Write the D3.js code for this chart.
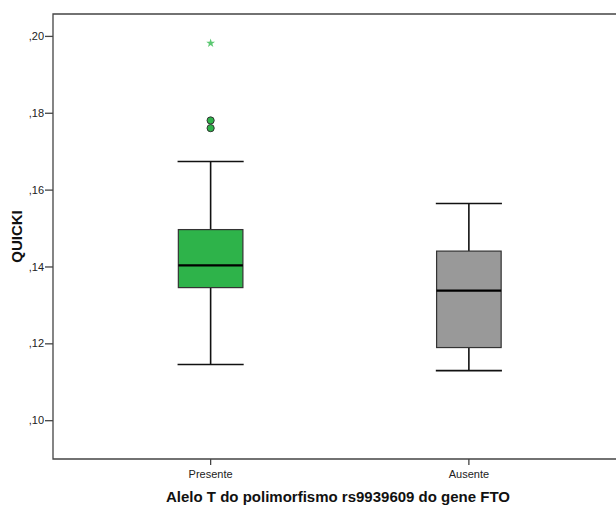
<!DOCTYPE html>
<html>
<head>
<meta charset="utf-8">
<script src="https://cdn.jsdelivr.net/npm/d3@7"></script>
<style>
  html, body { margin: 0; padding: 0; background: #fff; }
  svg { display: block; font-family: "Liberation Sans", Arial, sans-serif; }
</style>
</head>
<body>
<svg id="chart" width="616" height="506"></svg>
<script>
// QUICKI by presence of the T allele (FTO rs9939609)
const categories = ["Presente", "Ausente"];
const whiskerLow  = [0.1145, 0.1129];
const q1          = [0.1345, 0.1189];
const median      = [0.1403, 0.1337];
const q3          = [0.1496, 0.1440];
const whiskerHigh = [0.1673, 0.1564];
const boxColors   = ["#2eb34a", "#999999"];
// outliers (circles) and extremes (stars) for "Presente"
const outliers = [{ cat: "Presente", v: 0.1780 }, { cat: "Presente", v: 0.1760 }];
const extremes = [{ cat: "Presente", v: 0.1981 }];
const yTicks = [0.10, 0.12, 0.14, 0.16, 0.18, 0.20];
const yTickLabels = [",10", ",12", ",14", ",16", ",18", ",20"];
const yTitle = "QUICKI";
const xTitle = "Alelo T do polimorfismo rs9939609 do gene FTO";

const svg = d3.select("#chart");
const plot = { left: 53, top: 14, right: 640, bottom: 459 };

const y = d3.scaleLinear().domain([0.0899, 0.2057]).range([plot.bottom, plot.top]);
const x = d3.scaleBand().domain(categories).range([81.5, 598]).paddingInner(0).paddingOuter(0);
const boxW = x.bandwidth() * 0.25;
const capW = x.bandwidth() * 0.128;
const cx = c => x(c) + x.bandwidth() / 2;

// frame (left, top, bottom)
svg.append("path")
  .attr("d", `M${plot.right},${plot.top}H${plot.left}V${plot.bottom}H${plot.right}`)
  .attr("fill", "none").attr("stroke", "#444").attr("stroke-width", 1.3);

// y axis
const yAxis = d3.axisLeft(y).tickValues(yTicks)
  .tickFormat((d, i) => yTickLabels[i]).tickSize(8).tickPadding(1);
const gy = svg.append("g").attr("transform", `translate(${plot.left},0)`).call(yAxis);
gy.select(".domain").remove();
gy.selectAll(".tick line").attr("stroke", "#444").attr("stroke-width", 1.3);
gy.selectAll(".tick text").attr("fill", "#222").style("font-size", "11px");

// x axis
const gx = svg.append("g").attr("transform", `translate(0,${plot.bottom})`)
  .call(d3.axisBottom(x).tickSize(6).tickPadding(5));
gx.select(".domain").remove();
gx.selectAll(".tick line").attr("stroke", "#444").attr("stroke-width", 1.3);
gx.selectAll(".tick text").attr("fill", "#222").style("font-size", "11px");

// boxes
const data = categories.map((c, i) => ({
  c, lo: whiskerLow[i], q1: q1[i], med: median[i], q3: q3[i], hi: whiskerHigh[i], color: boxColors[i]
}));
const g = svg.append("g");
data.forEach(d => {
  const m = cx(d.c);
  g.append("line").attr("x1", m).attr("x2", m).attr("y1", y(d.hi)).attr("y2", y(d.q3))
    .attr("stroke", "#111").attr("stroke-width", 1.6);
  g.append("line").attr("x1", m).attr("x2", m).attr("y1", y(d.q1)).attr("y2", y(d.lo))
    .attr("stroke", "#111").attr("stroke-width", 1.6);
  [d.hi, d.lo].forEach(v => {
    g.append("line").attr("x1", m - capW).attr("x2", m + capW).attr("y1", y(v)).attr("y2", y(v))
      .attr("stroke", "#111").attr("stroke-width", 1.6);
  });
  g.append("rect").attr("x", m - boxW / 2).attr("width", boxW)
    .attr("y", y(d.q3)).attr("height", y(d.q1) - y(d.q3))
    .attr("fill", d.color).attr("stroke", "#333").attr("stroke-width", 1.2);
  g.append("line").attr("x1", m - boxW / 2).attr("x2", m + boxW / 2)
    .attr("y1", y(d.med)).attr("y2", y(d.med))
    .attr("stroke", "#000").attr("stroke-width", 2.2);
});

// outliers
g.selectAll("circle.out").data(outliers).join("circle")
  .attr("class", "out")
  .attr("cx", d => cx(d.cat)).attr("cy", d => y(d.v)).attr("r", 3.6)
  .attr("fill", "#2eb34a").attr("stroke", "#333").attr("stroke-width", 1);

// extremes
g.selectAll("path.ext").data(extremes).join("path")
  .attr("class", "ext")
  .attr("transform", d => `translate(${cx(d.cat)},${y(d.v)})`)
  .attr("d", d3.symbol(d3.symbolStar, 24))
  .attr("fill", "#5cc872");

// titles
svg.append("text")
  .attr("transform", `translate(22,${(plot.top + plot.bottom) / 2}) rotate(-90)`)
  .attr("text-anchor", "middle")
  .style("font-size", "15px").style("font-weight", "bold").attr("fill", "#111")
  .text(yTitle);

svg.append("text")
  .attr("x", 338).attr("y", 502)
  .attr("text-anchor", "middle")
  .style("font-size", "15px").style("font-weight", "bold").attr("fill", "#111")
  .text(xTitle);
</script>
</body>
</html>
